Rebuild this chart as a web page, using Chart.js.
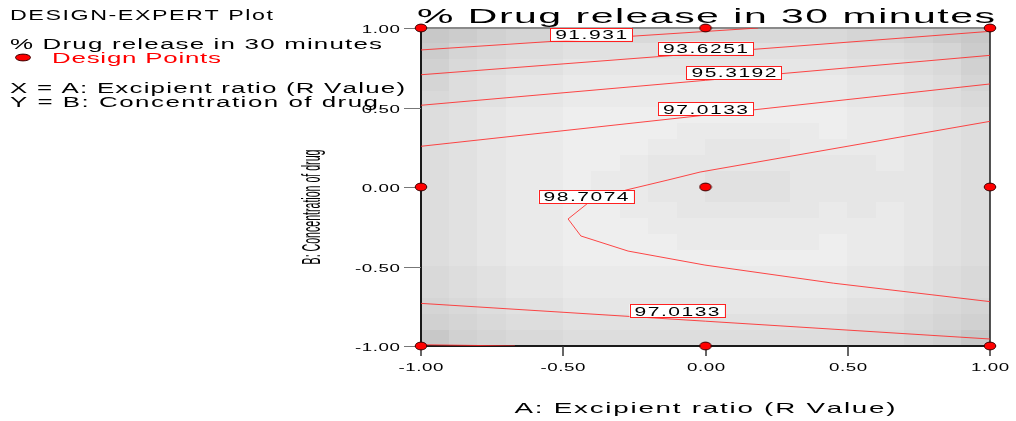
<!DOCTYPE html>
<html>
<head>
<meta charset="utf-8">
<script src="https://cdn.jsdelivr.net/npm/chart.js@4"></script>
<style>
  html, body { margin: 0; padding: 0; background: #fff; }
  canvas { display: block; }
</style>
</head>
<body>
<canvas id="contourChart" width="1016" height="421"></canvas>
<script>
// design points (A, B)
const designA = [-1, 0, 1, -1, 0, 1, -1, 0, 1];
const designB = [1, 1, 1, 0, 0, 0, -1, -1, -1];

// contour lines, [A, B]
const c91931 = [[-1, 0.862], [0.185, 1.0]];
const c93625 = [[-1, 0.706], [1, 0.979]];
const c95319top = [[-1, 0.514], [1, 0.828]];
const c97013top = [[-1, 0.256], [1, 0.648]];
const c98707 = [[1, 0.413], [-0.019, 0.094], [-0.132, 0.044], [-0.279, -0.019], [-0.413, -0.101],
  [-0.483, -0.201], [-0.438, -0.308], [-0.272, -0.403], [-0.002, -0.491], [0.45, -0.605], [1, -0.721]];
const c97013bot = [[-1, -0.732], [1, -0.956]];
const c95319bot = [[-1, -0.992], [-0.67, -1]];

// contour labels
const labelText = ['91.931', '93.6251', '95.3192', '97.0133', '98.7074', '97.0133'];
const labelA = [-0.402, 0.0, 0.100, 0.0, -0.420, -0.100];
const labelB = [0.961, 0.873, 0.720, 0.491, -0.060, -0.778];

// axes
const xTicks = [-1, -0.5, 0, 0.5, 1];
const xTickLabels = ['-1.00', '-0.50', '0.00', '0.50', '1.00'];
const yTicks = [1, 0.5, 0, -0.5, -1];
const yTickLabels = ['1.00', '0.50', '0.00', '-0.50', '-1.00'];

// background shading, 20x20 cells from top-left, darkness 0-9
const shadeRows = [
  '98766555555555566789',
  '86544333333333344568',
  '75433222222222233457',
  '64322111111111122346',
  '54322111111111122345',
  '43211000000000011234',
  '43211000011111011234',
  '43211000112221111234',
  '43211001222222221234',
  '43211011223332222234',
  '43211011223332222234',
  '43211001122222121234',
  '43211000111111111234',
  '43211000011111011234',
  '43211000000000011234',
  '54322111111111122345',
  '54322111111111122345',
  '65433222222222233456',
  '76544333333333344567',
  '97655444444444455679'
];

const FONT = '"Liberation Sans", Arial, sans-serif';

// text drawn with stretched glyphs and extra spacing, like the original export
function spaced(ctx, str, x, y, o) {
  ctx.save();
  ctx.font = o.size + 'px ' + FONT;
  ctx.fillStyle = o.color || '#000';
  ctx.textAlign = 'left';
  ctx.textBaseline = 'alphabetic';
  const chars = [...str];
  const adv = chars.map(c => ctx.measureText(c).width * o.sx);
  const sum = adv.reduce((a, b) => a + b, 0);
  let gap = o.gap || 0;
  if (o.width) gap = (o.width - sum) / (chars.length - 1);
  const total = sum + gap * (chars.length - 1);
  let cx = x;
  if (o.align === 'center') cx = x - total / 2;
  if (o.align === 'right') cx = x - total;
  chars.forEach((c, i) => {
    ctx.save();
    ctx.translate(cx, y);
    ctx.scale(o.sx, 1);
    ctx.fillText(c, 0, 0);
    ctx.restore();
    cx += adv[i] + gap;
  });
  ctx.restore();
  return total;
}

function ellipseDot(rx, ry) {
  const c = document.createElement('canvas');
  c.width = Math.ceil(rx * 2 + 2);
  c.height = Math.ceil(ry * 2 + 2);
  const g = c.getContext('2d');
  g.beginPath();
  g.ellipse(c.width / 2, c.height / 2, rx, ry, 0, 0, Math.PI * 2);
  g.fillStyle = '#ff0000';
  g.fill();
  g.lineWidth = 1;
  g.strokeStyle = '#3a0000';
  g.stroke();
  return c;
}
const dotImg = ellipseDot(5.8, 3.9);

const toXY = arr => arr.map(p => ({ x: p[0], y: p[1] }));
const lineSet = arr => ({
  data: toXY(arr),
  showLine: true,
  borderColor: 'rgba(255,40,40,0.85)',
  borderWidth: 1,
  pointRadius: 0,
  tension: 0,
  order: 2
});

const shading = {
  id: 'shading',
  beforeDatasetsDraw(chart) {
    const { ctx, scales: { x, y } } = chart;
    const n = shadeRows.length;
    ctx.save();
    shadeRows.forEach((row, j) => {
      [...row].forEach((d, i) => {
        const x0 = x.getPixelForValue(-1 + 2 * i / n);
        const x1 = x.getPixelForValue(-1 + 2 * (i + 1) / n);
        const y0 = y.getPixelForValue(1 - 2 * j / n);
        const y1 = y.getPixelForValue(1 - 2 * (j + 1) / n);
        const g = Math.round(238 - 4.2 * Number(d));
        ctx.fillStyle = 'rgb(' + g + ',' + g + ',' + g + ')';
        ctx.fillRect(Math.floor(x0), Math.floor(y0), Math.ceil(x1) - Math.floor(x0), Math.ceil(y1) - Math.floor(y0));
      });
    });

    const a = chart.chartArea;
    // frame
    ctx.lineWidth = 2;
    ctx.strokeStyle = '#8a8a8a';
    ctx.beginPath(); ctx.moveTo(a.left, a.top); ctx.lineTo(a.right, a.top); ctx.stroke();
    ctx.strokeStyle = '#1a1a1a';
    ctx.beginPath(); ctx.moveTo(a.left, a.top); ctx.lineTo(a.left, a.bottom); ctx.lineTo(a.right, a.bottom); ctx.stroke();
    ctx.lineWidth = 1.5;
    ctx.beginPath(); ctx.moveTo(a.right, a.top); ctx.lineTo(a.right, a.bottom); ctx.stroke();

    // ticks
    ctx.lineWidth = 1;
    ctx.strokeStyle = '#777';
    yTicks.forEach((v, k) => {
      const py = Math.round(y.getPixelForValue(v)) + 0.5;
      ctx.beginPath(); ctx.moveTo(a.left - 17, py); ctx.lineTo(a.left, py); ctx.stroke();
      spaced(ctx, yTickLabels[k], a.left - 21, py + 4, { size: 10.7, sx: 1.75, gap: 0.6, align: 'right' });
    });
    ctx.strokeStyle = '#333';
    ctx.lineWidth = 1.5;
    xTicks.forEach((v, k) => {
      const px = Math.round(x.getPixelForValue(v));
      ctx.beginPath(); ctx.moveTo(px, a.bottom); ctx.lineTo(px, a.bottom + 10); ctx.stroke();
      spaced(ctx, xTickLabels[k], px, a.bottom + 25, { size: 10.7, sx: 1.75, gap: 0.6, align: 'center' });
    });
    ctx.restore();
  }
};

const contourLabels = {
  id: 'contourLabels',
  afterDatasetsDraw(chart) {
    const { ctx, scales: { x, y } } = chart;
    ctx.save();
    labelText.forEach((t, i) => {
      const cx = x.getPixelForValue(labelA[i]);
      const cy = y.getPixelForValue(labelB[i]);
      const w = t.length === 6 ? 72 : 85;
      const bw = w + 10, bh = 13;
      ctx.fillStyle = '#fff';
      ctx.fillRect(cx - bw / 2, cy - bh / 2, bw, bh);
      ctx.strokeStyle = '#ff2020';
      ctx.lineWidth = 1;
      ctx.strokeRect(Math.round(cx - bw / 2) + 0.5, Math.round(cy - bh / 2) + 0.5, bw, bh);
      spaced(ctx, t, cx, cy + 4.8, { size: 12, sx: 1.75, width: w, align: 'center' });
    });
    ctx.restore();
  }
};

const texts = {
  id: 'texts',
  afterDraw(chart) {
    const ctx = chart.ctx;
    // title
    spaced(ctx, '% Drug release in 30 minutes', 706, 23, { size: 19.5, sx: 2.1, width: 578, align: 'center' });
    // side block
    spaced(ctx, 'DESIGN-EXPERT Plot', 10, 20, { size: 15, sx: 1.55, width: 263 });
    spaced(ctx, '% Drug release in 30 minutes', 10, 49, { size: 14, sx: 1.85, width: 372 });
    ctx.save();
    ctx.beginPath();
    ctx.ellipse(23, 57.5, 7.5, 3.4, 0, 0, Math.PI * 2);
    ctx.fillStyle = '#ff0000'; ctx.fill();
    ctx.strokeStyle = '#3a0000'; ctx.lineWidth = 1; ctx.stroke();
    ctx.restore();
    spaced(ctx, 'Design Points', 52, 63, { size: 14, sx: 1.85, width: 169, color: '#ff0000' });
    spaced(ctx, 'X = A: Excipient ratio (R Value)', 10, 93, { size: 14, sx: 1.85, width: 395 });
    spaced(ctx, 'Y = B: Concentration of drug', 10, 107, { size: 14, sx: 1.85, width: 368 });
    // axis titles
    spaced(ctx, 'A: Excipient ratio (R Value)', 705, 413, { size: 15, sx: 1.85, width: 381, align: 'center' });
    ctx.save();
    ctx.translate(320, 207);
    ctx.rotate(-Math.PI / 2);
    ctx.scale(1, 2.4);
    ctx.font = '10.6px ' + FONT;
    ctx.fillStyle = '#000';
    ctx.textAlign = 'center';
    ctx.textBaseline = 'alphabetic';
    ctx.fillText('B: Concentration of drug', 0, 0);
    ctx.restore();
  }
};

new Chart(document.getElementById('contourChart').getContext('2d'), {
  type: 'scatter',
  data: {
    datasets: [
      {
        data: designA.map((a, i) => ({ x: a, y: designB[i] })),
        pointStyle: dotImg,
        pointRadius: 6,
        showLine: false,
        clip: false,
        order: 0
      },
      lineSet(c91931),
      lineSet(c93625),
      lineSet(c95319top),
      lineSet(c97013top),
      lineSet(c98707),
      lineSet(c97013bot),
      lineSet(c95319bot)
    ]
  },
  options: {
    responsive: false,
    animation: false,
    devicePixelRatio: 1,
    layout: { padding: { left: 421, right: 26, top: 28, bottom: 75 } },
    plugins: { legend: { display: false }, tooltip: { enabled: false } },
    scales: {
      x: { type: 'linear', min: -1, max: 1, display: false },
      y: { type: 'linear', min: -1, max: 1, display: false }
    }
  },
  plugins: [shading, contourLabels, texts]
});
</script>
</body>
</html>
